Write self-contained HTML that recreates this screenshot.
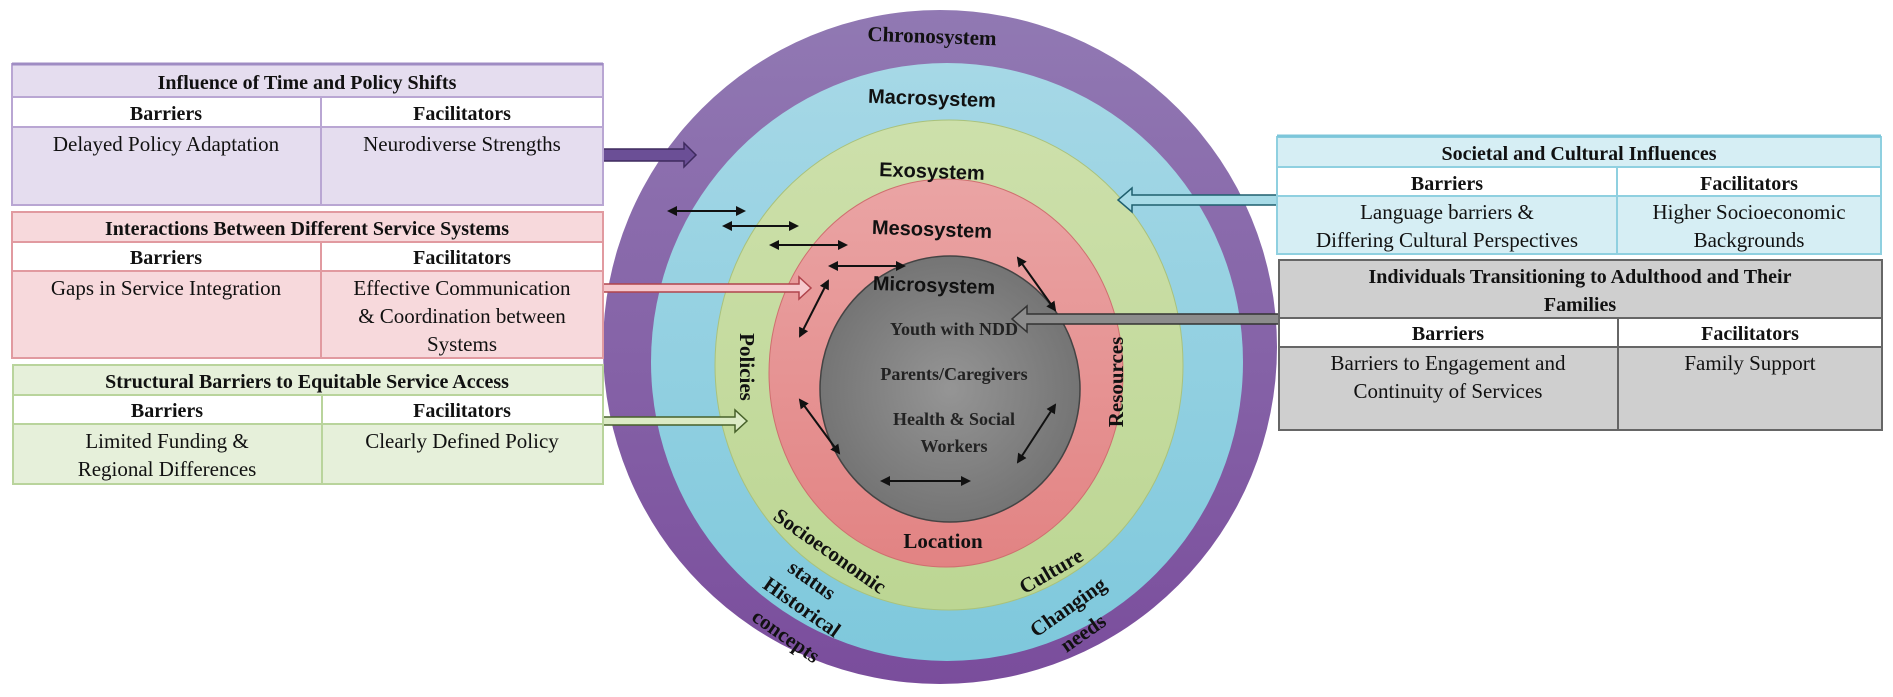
<!DOCTYPE html>
<html><head><meta charset="utf-8"><style>
html,body{margin:0;padding:0;background:#fff;}
svg{display:block;}
.t{font-family:"Liberation Serif",serif;font-size:21px;fill:#111;}
.h{font-family:"Liberation Serif",serif;font-size:20px;font-weight:bold;fill:#111;}
.r{font-family:"Liberation Sans",sans-serif;font-size:20px;font-weight:bold;fill:#111;}
.s{font-family:"Liberation Serif",serif;font-size:21px;font-weight:bold;fill:#111;}
.m{font-family:"Liberation Serif",serif;font-size:18px;font-weight:bold;fill:#222;}
</style></head><body>
<svg width="1893" height="697" viewBox="0 0 1893 697" xmlns="http://www.w3.org/2000/svg">
<defs>
<linearGradient id="gp" x1="0" y1="0" x2="0" y2="1"><stop offset="0" stop-color="#9179b3"/><stop offset="1" stop-color="#7a4d9c"/></linearGradient>
<linearGradient id="gb" x1="0" y1="0" x2="0" y2="1"><stop offset="0" stop-color="#a6d8e6"/><stop offset="1" stop-color="#7ec8dc"/></linearGradient>
<linearGradient id="gg" x1="0" y1="0" x2="0" y2="1"><stop offset="0" stop-color="#cde0ab"/><stop offset="1" stop-color="#bcd693"/></linearGradient>
<linearGradient id="gr" x1="0" y1="0" x2="0" y2="1"><stop offset="0" stop-color="#eaa4a4"/><stop offset="1" stop-color="#e28383"/></linearGradient>
<radialGradient id="gy" cx="0.5" cy="0.5" r="0.6"><stop offset="0" stop-color="#959595"/><stop offset="1" stop-color="#6e6e6e"/></radialGradient>
<marker id="ah" markerWidth="10" markerHeight="10" refX="8" refY="5" orient="auto-start-reverse" markerUnits="userSpaceOnUse"><path d="M0,0 L10,5 L0,10 z" fill="#111"/></marker>
</defs>

<!-- rings -->
<ellipse cx="940" cy="347" rx="337" ry="337" fill="url(#gp)"/>
<ellipse cx="947" cy="362" rx="296" ry="299" fill="url(#gb)"/>
<ellipse cx="949" cy="365" rx="234" ry="245" fill="url(#gg)" stroke="#a9c27c" stroke-width="1"/>
<ellipse cx="946" cy="373" rx="177" ry="194" fill="url(#gr)" stroke="#cf6f6f" stroke-width="1"/>
<ellipse cx="950" cy="389" rx="130" ry="133" fill="url(#gy)" stroke="#444" stroke-width="1.5"/>

<!-- ring labels -->
<text class="s" x="932" y="43" text-anchor="middle" transform="rotate(2 932 36)">Chronosystem</text>
<text class="r" x="932" y="105" text-anchor="middle" transform="rotate(2 932 98)">Macrosystem</text>
<text class="r" x="932" y="178" text-anchor="middle" transform="rotate(2 932 171)">Exosystem</text>
<text class="r" x="932" y="236" text-anchor="middle" transform="rotate(2 932 229)">Mesosystem</text>
<text class="r" x="934" y="292" text-anchor="middle" transform="rotate(2 934 285)">Microsystem</text>
<text class="m" x="954" y="335" text-anchor="middle">Youth with NDD</text>
<text class="m" x="954" y="380" text-anchor="middle">Parents/Caregivers</text>
<text class="m" x="954" y="425" text-anchor="middle">Health &amp; Social</text>
<text class="m" x="954" y="452" text-anchor="middle">Workers</text>
<text class="s" x="747" y="374" text-anchor="middle" transform="rotate(90 747 367)">Policies</text>
<text class="s" x="1116" y="389" text-anchor="middle" transform="rotate(-90 1116 382)">Resources</text>
<text class="s" x="943" y="548" text-anchor="middle">Location</text>
<text class="s" x="830" y="558" text-anchor="middle" transform="rotate(35 830 551)">Socioeconomic</text>
<text class="s" x="812" y="587" text-anchor="middle" transform="rotate(35 812 580)">status</text>
<text class="s" x="802" y="614" text-anchor="middle" transform="rotate(35 802 607)">Historical</text>
<text class="s" x="786" y="643" text-anchor="middle" transform="rotate(35 786 636)">concepts</text>
<text class="s" x="1051" y="578" text-anchor="middle" transform="rotate(-30 1051 571)">Culture</text>
<text class="s" x="1068" y="614" text-anchor="middle" transform="rotate(-35 1068 607)">Changing</text>
<text class="s" x="1083" y="640" text-anchor="middle" transform="rotate(-35 1083 633)">needs</text>

<!-- double arrows -->
<g stroke="#111" stroke-width="2" marker-start="url(#ah)" marker-end="url(#ah)" fill="none">
<line x1="669" y1="211" x2="744" y2="211"/>
<line x1="724" y1="226" x2="797" y2="226"/>
<line x1="771" y1="245" x2="846" y2="245"/>
<line x1="830" y1="266" x2="904" y2="266"/>
<line x1="828" y1="281" x2="800" y2="336"/>
<line x1="800" y1="400" x2="839" y2="453"/>
<line x1="882" y1="481" x2="969" y2="481"/>
<line x1="1018" y1="258" x2="1055" y2="310"/>
<line x1="1055" y1="405" x2="1018" y2="462"/>
</g>

<!-- block arrows -->
<polygon points="603,149 684,149 684,143 696,155 684,167 684,161 603,161" fill="#6b4f96" stroke="#3e2a5e" stroke-width="1.5"/>
<polygon points="603,284 799,284 799,277 811,288 799,299 799,292 603,292" fill="#f6c8cc" stroke="#b0444c" stroke-width="1.5"/>
<polygon points="603,417 735,417 735,410 747,421 735,432 735,425 603,425" fill="#dcebc5" stroke="#47612a" stroke-width="1.5"/>
<polygon points="1277,195 1132,195 1132,188 1118,200 1132,212 1132,205 1277,205" fill="#a7dbe7" stroke="#1f5f6e" stroke-width="1.5"/>
<polygon points="1279,314 1027,314 1027,306 1012,319 1027,332 1027,324 1279,324" fill="#8c8c8c" stroke="#333" stroke-width="1.5"/>

<!-- Box 1 purple -->
<g stroke="#b9a6d3" stroke-width="2">
<rect x="12" y="64" width="591" height="33" fill="#e5ddef"/>
<rect x="12" y="97" width="309" height="30" fill="#fff"/>
<rect x="321" y="97" width="282" height="30" fill="#fff"/>
<rect x="12" y="127" width="309" height="78" fill="#e5ddef"/>
<rect x="321" y="127" width="282" height="78" fill="#e5ddef"/>
</g>
<line x1="12" y1="64" x2="603" y2="64" stroke="#9f8cc3" stroke-width="3"/>
<text class="h" x="307" y="89" text-anchor="middle">Influence of Time and Policy Shifts</text>
<text class="h" x="166" y="120" text-anchor="middle">Barriers</text>
<text class="h" x="462" y="120" text-anchor="middle">Facilitators</text>
<text class="t" x="166" y="151" text-anchor="middle">Delayed Policy Adaptation</text>
<text class="t" x="462" y="151" text-anchor="middle">Neurodiverse Strengths</text>

<!-- Box 2 pink -->
<g stroke="#e19aa0" stroke-width="2">
<rect x="12" y="212" width="591" height="30" fill="#f7d9dc"/>
<rect x="12" y="242" width="309" height="29" fill="#fff"/>
<rect x="321" y="242" width="282" height="29" fill="#fff"/>
<rect x="12" y="271" width="309" height="87" fill="#f7d9dc"/>
<rect x="321" y="271" width="282" height="87" fill="#f7d9dc"/>
</g>
<text class="h" x="307" y="235" text-anchor="middle">Interactions Between Different Service Systems</text>
<text class="h" x="166" y="264" text-anchor="middle">Barriers</text>
<text class="h" x="462" y="264" text-anchor="middle">Facilitators</text>
<text class="t" x="166" y="295" text-anchor="middle">Gaps in Service Integration</text>
<text class="t" x="462" y="295" text-anchor="middle">Effective Communication</text>
<text class="t" x="462" y="323" text-anchor="middle">&amp; Coordination between</text>
<text class="t" x="462" y="351" text-anchor="middle">Systems</text>

<!-- Box 3 green -->
<g stroke="#b9d49c" stroke-width="2">
<rect x="13" y="365" width="590" height="30" fill="#e6f0da"/>
<rect x="13" y="395" width="309" height="29" fill="#fff"/>
<rect x="322" y="395" width="281" height="29" fill="#fff"/>
<rect x="13" y="424" width="309" height="60" fill="#e6f0da"/>
<rect x="322" y="424" width="281" height="60" fill="#e6f0da"/>
</g>
<text class="h" x="307" y="388" text-anchor="middle">Structural Barriers to Equitable Service Access</text>
<text class="h" x="167" y="417" text-anchor="middle">Barriers</text>
<text class="h" x="462" y="417" text-anchor="middle">Facilitators</text>
<text class="t" x="167" y="448" text-anchor="middle">Limited Funding &amp;</text>
<text class="t" x="167" y="476" text-anchor="middle">Regional Differences</text>
<text class="t" x="462" y="448" text-anchor="middle">Clearly Defined Policy</text>

<!-- Box 4 blue -->
<g stroke="#8fd0e0" stroke-width="2">
<rect x="1277" y="137" width="604" height="30" fill="#d6eef4"/>
<rect x="1277" y="167" width="340" height="29" fill="#fff"/>
<rect x="1617" y="167" width="264" height="29" fill="#fff"/>
<rect x="1277" y="196" width="340" height="58" fill="#d6eef4"/>
<rect x="1617" y="196" width="264" height="58" fill="#d6eef4"/>
</g>
<line x1="1277" y1="136" x2="1881" y2="136" stroke="#7cc6da" stroke-width="3"/>
<text class="h" x="1579" y="160" text-anchor="middle">Societal and Cultural Influences</text>
<text class="h" x="1447" y="190" text-anchor="middle">Barriers</text>
<text class="h" x="1749" y="190" text-anchor="middle">Facilitators</text>
<text class="t" x="1447" y="219" text-anchor="middle">Language barriers &amp;</text>
<text class="t" x="1447" y="247" text-anchor="middle">Differing Cultural Perspectives</text>
<text class="t" x="1749" y="219" text-anchor="middle">Higher Socioeconomic</text>
<text class="t" x="1749" y="247" text-anchor="middle">Backgrounds</text>

<!-- Box 5 grey -->
<g stroke="#666" stroke-width="2">
<rect x="1279" y="260" width="603" height="58" fill="#cfcfcf"/>
<rect x="1279" y="318" width="339" height="29" fill="#fff"/>
<rect x="1618" y="318" width="264" height="29" fill="#fff"/>
<rect x="1279" y="347" width="339" height="83" fill="#cfcfcf"/>
<rect x="1618" y="347" width="264" height="83" fill="#cfcfcf"/>
</g>
<text class="h" x="1580" y="283" text-anchor="middle">Individuals Transitioning to Adulthood and Their</text>
<text class="h" x="1580" y="311" text-anchor="middle">Families</text>
<text class="h" x="1448" y="340" text-anchor="middle">Barriers</text>
<text class="h" x="1750" y="340" text-anchor="middle">Facilitators</text>
<text class="t" x="1448" y="370" text-anchor="middle">Barriers to Engagement and</text>
<text class="t" x="1448" y="398" text-anchor="middle">Continuity of Services</text>
<text class="t" x="1750" y="370" text-anchor="middle">Family Support</text>
</svg>
</body></html>
